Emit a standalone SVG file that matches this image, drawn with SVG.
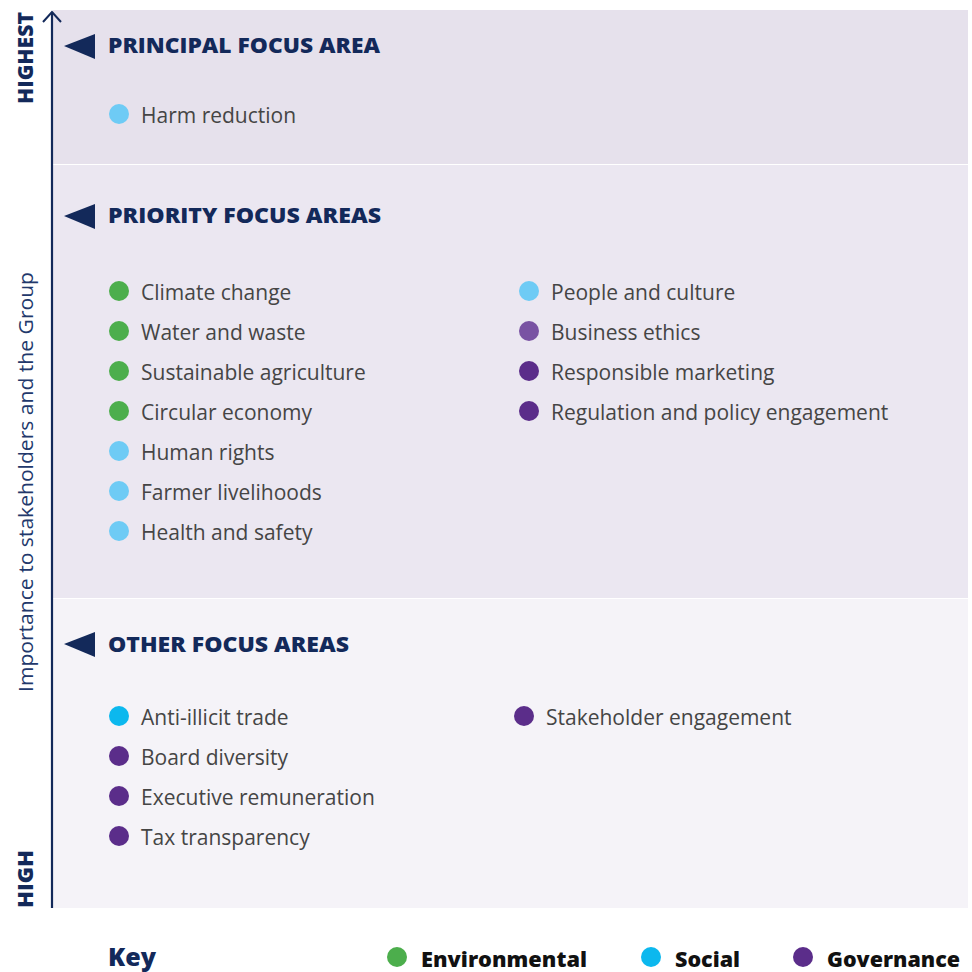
<svg xmlns="http://www.w3.org/2000/svg" width="972" height="972" viewBox="0 0 972 972">
<style>
.hd{font-family:"Open Sans","Liberation Sans",sans-serif;font-weight:800;font-size:21px;fill:#13295a}
.it{font-family:"Open Sans","Liberation Sans",sans-serif;font-size:21px;fill:#454545}
.ax{font-family:"Open Sans","Liberation Sans",sans-serif;font-weight:800;font-size:21px;fill:#13295a}
.axl{font-family:"Open Sans","Liberation Sans",sans-serif;font-size:20.5px;fill:#22386b}
.ky{font-family:"Open Sans","Liberation Sans",sans-serif;font-weight:800;font-size:21px;fill:#111}
.tri{fill:#13295a}
.env{fill:#4cae4c}.soc{fill:#6ecbf5}.socd{fill:#0cb8ee}.gov{fill:#5b2d8a}.govl{fill:#7953a3}
</style>
<rect x="0" y="0" width="972" height="972" fill="#ffffff"/>
<g id="panels">
<rect x="53" y="10" width="915" height="154" fill="#e6e1ec"/>
<rect x="53" y="165" width="915" height="433" fill="#ebe7f1"/>
<rect x="53" y="599" width="915" height="309" fill="#f5f3f8"/>
</g>
<g id="axis">
<line x1="52" y1="12" x2="52" y2="908" stroke="#13295a" stroke-width="2.2"/>
<polyline points="43,22 52,12 61,22" fill="none" stroke="#13295a" stroke-width="2"/>
<text class="ax" transform="translate(33,58) rotate(-90)" text-anchor="middle" textLength="92" lengthAdjust="spacingAndGlyphs">HIGHEST</text>
<text class="ax" transform="translate(33,879) rotate(-90)" text-anchor="middle" textLength="58" lengthAdjust="spacingAndGlyphs">HIGH</text>
<text class="axl" transform="translate(33,482) rotate(-90)" text-anchor="middle" textLength="420" lengthAdjust="spacingAndGlyphs">Importance to stakeholders and the Group</text>
</g>
<g id="principal">
<polygon class="tri" points="64,46 95,34 95,59"/>
<text class="hd" x="108" y="53" textLength="272" lengthAdjust="spacingAndGlyphs">PRINCIPAL FOCUS AREA</text>
<circle class="soc" cx="119" cy="114" r="10"/><text class="it" x="141" y="123">Harm reduction</text>
</g>
<g id="priority">
<polygon class="tri" points="64,216 95,204 95,229"/>
<text class="hd" x="108" y="223" textLength="273" lengthAdjust="spacingAndGlyphs">PRIORITY FOCUS AREAS</text>
<circle class="env" cx="119" cy="291" r="10"/><text class="it" x="141" y="300">Climate change</text>
<circle class="env" cx="119" cy="331" r="10"/><text class="it" x="141" y="340">Water and waste</text>
<circle class="env" cx="119" cy="371" r="10"/><text class="it" x="141" y="380">Sustainable agriculture</text>
<circle class="env" cx="119" cy="411" r="10"/><text class="it" x="141" y="420">Circular economy</text>
<circle class="soc" cx="119" cy="451" r="10"/><text class="it" x="141" y="460">Human rights</text>
<circle class="soc" cx="119" cy="491" r="10"/><text class="it" x="141" y="500">Farmer livelihoods</text>
<circle class="soc" cx="119" cy="531" r="10"/><text class="it" x="141" y="540">Health and safety</text>
<circle class="soc" cx="529" cy="291" r="10"/><text class="it" x="551" y="300">People and culture</text>
<circle class="govl" cx="529" cy="331" r="10"/><text class="it" x="551" y="340">Business ethics</text>
<circle class="gov" cx="529" cy="371" r="10"/><text class="it" x="551" y="380">Responsible marketing</text>
<circle class="gov" cx="529" cy="411" r="10"/><text class="it" x="551" y="420">Regulation and policy engagement</text>
</g>
<g id="other">
<polygon class="tri" points="64,644 95,632 95,657"/>
<text class="hd" x="108" y="652" textLength="241" lengthAdjust="spacingAndGlyphs">OTHER FOCUS AREAS</text>
<circle class="socd" cx="119" cy="716" r="10"/><text class="it" x="141" y="725">Anti-illicit trade</text>
<circle class="gov" cx="119" cy="756" r="10"/><text class="it" x="141" y="765">Board diversity</text>
<circle class="gov" cx="119" cy="796" r="10"/><text class="it" x="141" y="805">Executive remuneration</text>
<circle class="gov" cx="119" cy="836" r="10"/><text class="it" x="141" y="845">Tax transparency</text>
<circle class="gov" cx="524" cy="716" r="10"/><text class="it" x="546" y="725">Stakeholder engagement</text>
</g>
<g id="key">
<text class="hd" x="108" y="966" style="font-size:24px" textLength="48" lengthAdjust="spacingAndGlyphs">Key</text>
<circle class="env" cx="397" cy="957" r="10"/><text class="ky" x="421" y="967" textLength="166" lengthAdjust="spacingAndGlyphs">Environmental</text>
<circle class="socd" cx="651" cy="957" r="10"/><text class="ky" x="675" y="967" textLength="65" lengthAdjust="spacingAndGlyphs">Social</text>
<circle class="gov" cx="803" cy="957" r="10"/><text class="ky" x="827" y="967" textLength="133" lengthAdjust="spacingAndGlyphs">Governance</text>
</g>
</svg>
